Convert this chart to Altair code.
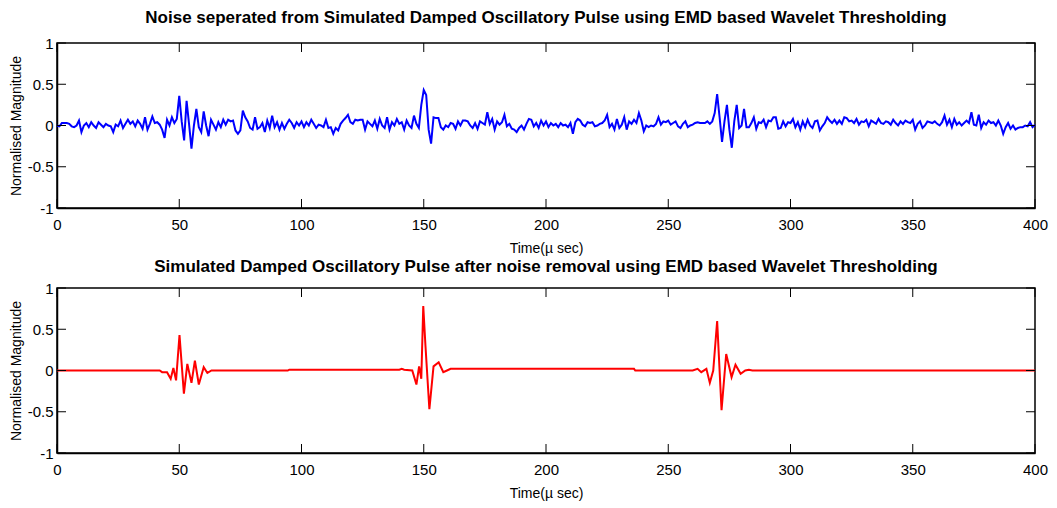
import altair as alt
import pandas as pd

# ---- data ----
noise_values = [
    0.00, -0.01, 0.03, 0.03, 0.03, 0.02, -0.01, -0.02, 0.00, 0.06,
    -0.08, 0.00, 0.03, -0.02, 0.04, 0.00, -0.03, 0.04, 0.01, -0.02,
    0.02, 0.00, -0.01, -0.08, 0.01, -0.01, 0.06, -0.03, 0.02, 0.07,
    0.02, 0.05, -0.01, 0.06, 0.02, -0.04, 0.10, -0.05, 0.02, 0.11,
    0.03, 0.04, 0.01, -0.05, -0.15, 0.07, 0.00, 0.10, 0.03, 0.08,
    0.36, 0.05, -0.18, 0.30, 0.02, -0.28, 0.00, 0.20, -0.02, -0.08,
    0.17, 0.00, -0.13, 0.07, 0.01, -0.05, 0.04, -0.02, 0.07, 0.01,
    0.07, 0.05, 0.06, -0.06, -0.10, -0.06, 0.18, 0.10, 0.05, -0.03,
    -0.05, 0.10, -0.04, -0.02, 0.03, -0.08, 0.06, -0.03, 0.12, -0.02,
    0.04, -0.05, 0.03, -0.04, 0.02, 0.07, 0.03, -0.03, 0.04, 0.00,
    0.05, -0.02, 0.04, 0.00, 0.07, 0.02, -0.03, 0.01, 0.00, -0.02,
    0.07, -0.03, -0.02, -0.10, -0.03, -0.06, 0.02, 0.06, 0.09, 0.13,
    0.04, 0.02, 0.07, 0.06, 0.07, 0.07, -0.05, 0.05, 0.02, -0.01,
    0.06, -0.04, 0.08, 0.00, -0.03, 0.10, -0.05, 0.04, 0.00, 0.08,
    0.02, 0.04, -0.05, 0.06, 0.00, -0.03, 0.12, 0.02, -0.03, 0.25,
    0.43, 0.37, -0.05, -0.22, 0.10, 0.09, 0.09, -0.02, -0.05, 0.00,
    -0.02, 0.03, 0.02, -0.04, 0.05, 0.00, 0.06, 0.06, 0.05, 0.00,
    -0.03, 0.03, -0.04, 0.05, 0.03, 0.01, 0.16, 0.02, 0.08, -0.05,
    0.05, 0.01, 0.04, 0.13, -0.01, 0.02, -0.04, -0.05, -0.08, -0.03,
    0.00, -0.05, 0.02, 0.08, 0.07, -0.01, 0.03, -0.03, 0.06, 0.00,
    0.05, -0.02, 0.03, 0.00, 0.02, -0.02, 0.03, 0.00, 0.01, -0.02,
    0.03, -0.10, 0.04, 0.08, 0.06, 0.01, -0.01, 0.04, 0.03, 0.04,
    -0.01, 0.00, 0.02, 0.03, 0.06, 0.13, -0.02, 0.02, -0.05, 0.08,
    -0.03, 0.01, 0.10, -0.05, 0.05, 0.02, 0.07, 0.03, 0.15, 0.06,
    -0.07, 0.00, -0.02, 0.00, -0.01, 0.02, 0.10, 0.01, 0.05, 0.04,
    0.06, 0.01, 0.03, 0.05, -0.01, -0.03, 0.02, 0.05, -0.02, 0.00,
    0.01, 0.03, 0.04, 0.03, 0.03, 0.03, 0.05, 0.02, 0.05, 0.15,
    0.38, 0.10, -0.20, 0.05, 0.25, -0.05, -0.27, 0.05, 0.25, -0.03,
    0.00, 0.20, -0.02, -0.02, 0.03, 0.10, -0.04, 0.04, 0.03, 0.07,
    -0.02, 0.06, 0.05, 0.10, 0.10, -0.04, -0.03, 0.05, -0.01, 0.04,
    0.03, 0.08, -0.02, 0.04, -0.05, 0.05, -0.02, 0.07, 0.00, -0.03,
    0.05, 0.06, -0.06, -0.01, 0.03, 0.10, 0.06, 0.03, 0.07, 0.02,
    0.06, 0.02, 0.10, 0.09, 0.05, 0.06, 0.03, 0.08, 0.01, 0.05,
    0.04, 0.07, -0.01, 0.06, 0.04, 0.02, 0.08, 0.03, 0.02, 0.05,
    0.04, 0.01, 0.07, 0.03, 0.00, 0.05, 0.02, 0.06, 0.04, 0.03,
    0.07, -0.05, 0.02, 0.05, -0.03, 0.00, 0.05, 0.04, 0.03, 0.05,
    0.02, 0.00, 0.04, 0.12, 0.01, 0.07, -0.02, 0.08, 0.01, 0.04,
    0.00, 0.03, 0.06, 0.03, 0.16, 0.01, 0.00, 0.13, -0.03, 0.04,
    0.01, 0.06, 0.03, 0.04, 0.00, 0.06, 0.00, -0.10, -0.02, 0.03,
    -0.04, 0.00, -0.05, -0.03, -0.02, -0.02, 0.00, -0.01, 0.04, -0.02,
    0.01,
]
noise_time = list(range(len(noise_values)))

clean_time = [
    0, 42, 43, 45, 46.5, 47.6, 48.7, 50.1, 51.9, 53.3, 55, 56.4, 58, 60, 61.5, 63.2,
    94.4, 95, 140, 141, 142, 145.3, 147, 148.1, 149, 149.8, 150.7, 152.3, 154, 156.1,
    158, 159.5, 161, 236, 236.5, 260, 262, 263.5, 265.6, 267, 268.4, 270, 271.8,
    273.7, 275.9, 277.5, 279.6, 281.5, 283, 284.4, 400,
]
clean_values = [
    0.00, 0.00, -0.02, -0.02, -0.10, 0.03, -0.12, 0.43, -0.28, 0.08, -0.15, 0.12, -0.17, 0.04, -0.03, 0.00,
    0.00, 0.01, 0.01, 0.02, 0.01, 0.00, -0.17, 0.05, -0.10, 0.78, 0.30, -0.47, 0.05, 0.10,
    -0.02, 0.00, 0.02, 0.02, 0.00, 0.00, 0.02, -0.02, 0.02, -0.15, 0.00, 0.60, -0.48,
    0.20, -0.08, 0.07, -0.04, 0.00, 0.01, 0.00, 0.00,
]

x_ticks = [0, 50, 100, 150, 200, 250, 300, 350, 400]
y_ticks = [-1, -0.5, 0, 0.5, 1]

top_title = "Noise seperated from Simulated Damped Oscillatory Pulse using EMD based Wavelet Thresholding"
bottom_title = "Simulated Damped Oscillatory Pulse after noise removal using EMD based Wavelet Thresholding"
x_title = "Time(\u00b5 sec)"
y_title = "Normalised Magnitude"

W, H = 978, 165
FONT = "Liberation Sans"
TL = 9  # tick length (inward)

noise_df = pd.DataFrame({"t": noise_time, "v": noise_values})
clean_df = pd.DataFrame({"t": clean_time, "v": clean_values})
xt_df = pd.DataFrame({"t": x_ticks})
yt_df = pd.DataFrame({"v": y_ticks})

xscale = alt.Scale(domain=[0, 400], nice=False, zero=False)
yscale = alt.Scale(domain=[-1, 1], nice=False)

x_axis = alt.Axis(values=x_ticks, tickSize=0, labelPadding=9, grid=False,
                  labelFlush=False, titlePadding=9, domainColor="black")
y_axis = alt.Axis(values=y_ticks, tickSize=0, labelPadding=4, grid=False,
                  labelFlush=False, labelExpr="'' + datum.value", titlePadding=4,
                  domainColor="black")


def xenc():
    return alt.X("t:Q", scale=xscale, title=x_title, axis=x_axis)


def yenc():
    return alt.Y("v:Q", scale=yscale, title=y_title, axis=y_axis)


def panel(df, color, title, offset):
    line = alt.Chart(df).mark_line(color=color, strokeWidth=2).encode(x=xenc(), y=yenc())
    xt_top = alt.Chart(xt_df).mark_rule(color="black", strokeWidth=1).encode(
        x=xenc(), y=alt.value(0), y2=alt.value(TL))
    xt_bot = alt.Chart(xt_df).mark_rule(color="black", strokeWidth=1).encode(
        x=xenc(), y=alt.value(H - TL), y2=alt.value(H))
    yt_left = alt.Chart(yt_df).mark_rule(color="black", strokeWidth=1).encode(
        y=yenc(), x=alt.value(0), x2=alt.value(TL))
    yt_right = alt.Chart(yt_df).mark_rule(color="black", strokeWidth=1).encode(
        y=yenc(), x=alt.value(W - TL), x2=alt.value(W))
    return alt.layer(line, xt_top, xt_bot, yt_left, yt_right).properties(
        width=W, height=H,
        title=alt.TitleParams(title, font=FONT, fontSize=17, fontWeight="bold",
                              color="black", offset=offset, anchor="middle"),
    )


chart = alt.vconcat(
    panel(noise_df, "#0000FF", top_title, 9),
    panel(clean_df, "#FF0000", bottom_title, 5),
    spacing=1,
).properties(padding={"left": 0, "top": 0, "right": 0, "bottom": 0}).configure_view(
    stroke="black", strokeWidth=1.5
).configure_axis(
    labelFont=FONT, titleFont=FONT, labelFontSize=15, titleFontSize=14,
    labelColor="black", titleColor="black", titleFontWeight="normal",
    domainWidth=1.5,
)

chart.save("out.html", embed_options={"renderer": "svg", "actions": False})
